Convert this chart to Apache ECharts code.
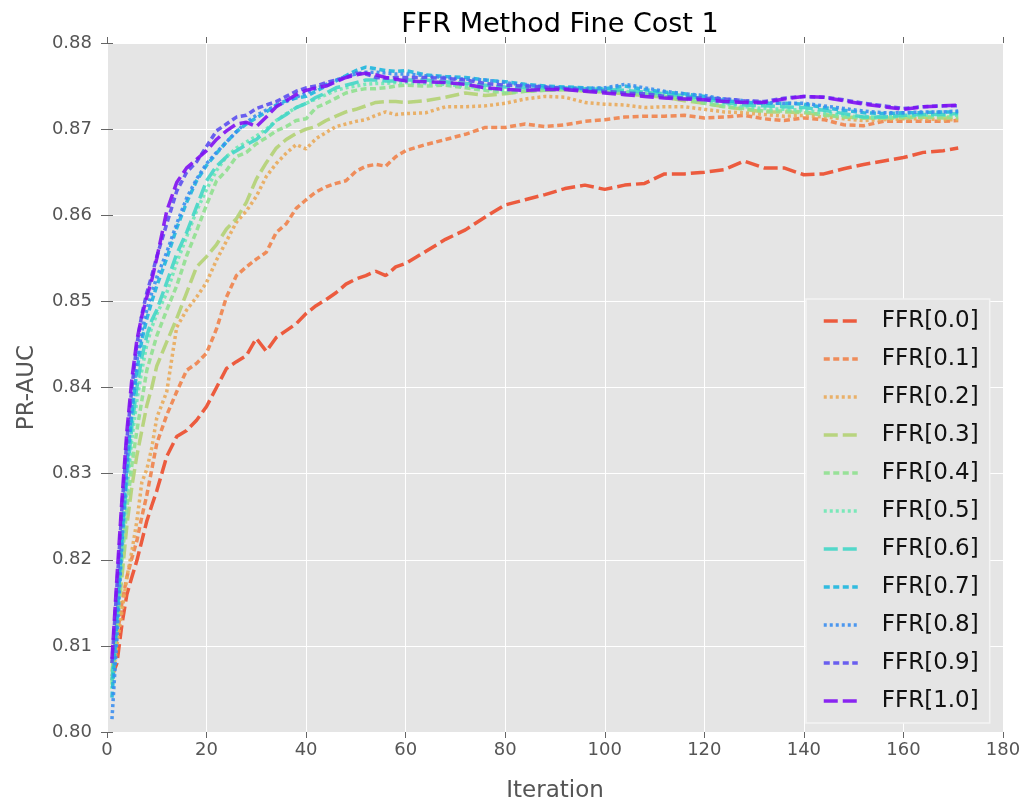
<!DOCTYPE html>
<html>
<head>
<meta charset="utf-8">
<script src="https://cdn.jsdelivr.net/npm/echarts@6/dist/echarts.min.js"></script>
<style>
  html, body { margin: 0; padding: 0; background: #ffffff; }
  #chart { width: 1025px; height: 808px; }
</style>
</head>
<body>
<div id="chart"></div>
<script>
// Iterations at which values were read
const iterations = [1,2,3,4,5,6,7,8,9,10, 12,14,16,18,20,
  22,24,26,28,30,32,34,36,38,40,42,44,46,48,50,52,54,56,58,60,
  64,68,72,76,80,84,88,92,96,100,104,108,112,116,120,124,128,132,136,140,144,148,152,156,160,164,168,
  171];

const seriesNames = ['FFR[0.0]','FFR[0.1]','FFR[0.2]','FFR[0.3]','FFR[0.4]','FFR[0.5]','FFR[0.6]','FFR[0.7]','FFR[0.8]','FFR[0.9]','FFR[1.0]'];

const ffr00 = [0.8065,0.8080,0.8125,0.8160,0.8180,0.8199,0.8222,0.8245,0.8263,0.8280,
  0.8320,0.8343,0.8350,0.8362,0.8378,
  0.8400,0.8422,0.8430,0.8437,0.8457,0.8442,0.8458,0.8466,0.8474,0.8486,0.8495,0.8502,0.8510,0.8520,0.8526,0.8530,0.8535,0.8530,0.8540,0.8544,
  0.8558,0.8572,0.8583,0.8598,0.8612,0.8618,0.8624,0.8631,0.8635,0.8630,0.8635,0.8637,0.8648,0.8648,0.8650,0.8653,0.8663,0.8655,0.8655,0.8647,0.8648,0.8654,0.8659,0.8663,0.8667,0.8673,0.8675,
  0.8678];
const ffr01 = [0.8080,0.8110,0.8150,0.8180,0.8202,0.8222,0.8250,0.8275,0.8305,0.8335,
  0.8368,0.8395,0.8420,0.8428,0.8440,
  0.8468,0.8505,0.8530,0.8540,0.8549,0.8557,0.8580,0.8590,0.8608,0.8618,0.8627,0.8633,0.8637,0.8640,0.8651,0.8657,0.8659,0.8657,0.8668,0.8675,
  0.8682,0.8688,0.8694,0.8702,0.8702,0.8706,0.8703,0.8705,0.8709,0.8711,0.8714,0.8715,0.8715,0.8716,0.8713,0.8714,0.8716,0.8712,0.8710,0.8713,0.8711,0.8705,0.8704,0.8709,0.8709,0.8709,0.8709,
  0.8710];
const ffr02 = [0.8060,0.8100,0.8140,0.8180,0.8210,0.8245,0.8290,0.8305,0.8330,0.8365,
  0.8395,0.8470,0.8490,0.8505,0.8522,
  0.8548,0.8570,0.8592,0.8605,0.8622,0.8645,0.8660,0.8672,0.8682,0.8677,0.8689,0.8696,0.8703,0.8706,0.8709,0.8711,0.8716,0.8720,0.8717,0.8718,
  0.8719,0.8726,0.8726,0.8727,0.8730,0.8735,0.8738,0.8737,0.8731,0.8729,0.8728,0.8725,0.8726,0.8726,0.8723,0.8720,0.8719,0.8717,0.8715,0.8716,0.8714,0.8712,0.8710,0.8711,0.8712,0.8712,0.8711,
  0.8711];
const ffr03 = [0.8070,0.8120,0.8180,0.8240,0.8285,0.8321,0.8350,0.8379,0.8400,0.8425,
  0.8453,0.8480,0.8510,0.8540,0.8552,
  0.8566,0.8584,0.8596,0.8615,0.8642,0.8661,0.8678,0.8688,0.8695,0.8700,0.8703,0.8710,0.8715,0.8720,0.8723,0.8727,0.8731,0.8732,0.8732,0.8731,
  0.8733,0.8737,0.8742,0.8739,0.8741,0.8744,0.8745,0.8746,0.8744,0.8743,0.8741,0.8739,0.8737,0.8733,0.8730,0.8726,0.8723,0.8720,0.8720,0.8719,0.8717,0.8714,0.8713,0.8713,0.8713,0.8714,0.8713,
  0.8713];
const ffr04 = [0.8055,0.8130,0.8200,0.8260,0.8310,0.8350,0.8385,0.8420,0.8440,0.8460,
  0.8490,0.8518,0.8553,0.8582,0.8612,
  0.8640,0.8652,0.8668,0.8673,0.8683,0.8690,0.8698,0.8703,0.8710,0.8712,0.8725,0.8730,0.8736,0.8742,0.8745,0.8747,0.8747,0.8748,0.8750,0.8751,
  0.8750,0.8751,0.8748,0.8745,0.8742,0.8744,0.8745,0.8746,0.8745,0.8744,0.8743,0.8740,0.8738,0.8735,0.8730,0.8726,0.8724,0.8721,0.8721,0.8720,0.8716,0.8714,0.8713,0.8713,0.8714,0.8714,0.8714,
  0.8714];
const ffr05 = [0.8050,0.8130,0.8210,0.8280,0.8340,0.8385,0.8420,0.8450,0.8470,0.8485,
  0.8510,0.8545,0.8575,0.8605,0.8630,
  0.8652,0.8668,0.8678,0.8685,0.8692,0.8700,0.8710,0.8718,0.8725,0.8730,0.8735,0.8740,0.8745,0.8748,0.8750,0.8752,0.8753,0.8753,0.8754,0.8754,
  0.8753,0.8752,0.8750,0.8747,0.8745,0.8746,0.8747,0.8748,0.8747,0.8745,0.8744,0.8742,0.8740,0.8738,0.8733,0.8729,0.8726,0.8724,0.8723,0.8722,0.8719,0.8716,0.8714,0.8714,0.8715,0.8716,0.8716,
  0.8716];
const ffr06 = [0.8060,0.8140,0.8220,0.8295,0.8355,0.8400,0.8435,0.8460,0.8478,0.8490,
  0.8522,0.8555,0.8580,0.8610,0.8640,
  0.8657,0.8668,0.8675,0.8682,0.8688,0.8698,0.8710,0.8717,0.8725,0.8730,0.8737,0.8742,0.8748,0.8751,0.8754,0.8757,0.8757,0.8756,0.8756,0.8757,
  0.8757,0.8755,0.8753,0.8751,0.8749,0.8748,0.8748,0.8748,0.8747,0.8746,0.8745,0.8743,0.8741,0.8739,0.8735,0.8731,0.8728,0.8727,0.8726,0.8725,0.8722,0.8718,0.8714,0.8714,0.8716,0.8717,0.8717,
  0.8718];
const ffr07 = [0.8040,0.8130,0.8230,0.8310,0.8370,0.8420,0.8455,0.8480,0.8500,0.8518,
  0.8550,0.8585,0.8615,0.8640,0.8658,
  0.8672,0.8685,0.8697,0.8706,0.8713,0.8720,0.8728,0.8733,0.8736,0.8738,0.8744,0.8750,0.8756,0.8762,0.8768,0.8772,0.8770,0.8768,0.8767,0.8768,
  0.8763,0.8761,0.8760,0.8757,0.8755,0.8752,0.8750,0.8749,0.8748,0.8747,0.8750,0.8746,0.8743,0.8741,0.8738,0.8733,0.8731,0.8730,0.8730,0.8729,0.8725,0.8722,0.8719,0.8718,0.8719,0.8719,0.8720,
  0.8720];
const ffr08 = [0.8015,0.8110,0.8220,0.8310,0.8380,0.8430,0.8465,0.8490,0.8510,0.8528,
  0.8557,0.8590,0.8620,0.8642,0.8660,
  0.8673,0.8685,0.8697,0.8708,0.8716,0.8722,0.8727,0.8732,0.8737,0.8742,0.8747,0.8752,0.8757,0.8761,0.8764,0.8766,0.8766,0.8765,0.8764,0.8764,
  0.8762,0.8760,0.8758,0.8757,0.8754,0.8751,0.8749,0.8748,0.8747,0.8748,0.8752,0.8748,0.8744,0.8741,0.8739,0.8735,0.8733,0.8731,0.8730,0.8730,0.8727,0.8724,0.8721,0.8719,0.8719,0.8720,0.8720,
  0.8721];
const ffr09 = [0.8080,0.8170,0.8260,0.8340,0.8400,0.8450,0.8485,0.8510,0.8530,0.8552,
  0.8590,0.8628,0.8650,0.8662,0.8680,
  0.8698,0.8706,0.8714,0.8716,0.8724,0.8728,0.8732,0.8738,0.8744,0.8748,0.8750,0.8754,0.8757,0.8760,0.8765,0.8764,0.8760,0.8759,0.8760,0.8760,
  0.8760,0.8759,0.8757,0.8753,0.8751,0.8750,0.8749,0.8747,0.8745,0.8744,0.8742,0.8741,0.8738,0.8736,0.8736,0.8735,0.8733,0.8732,0.8736,0.8738,0.8737,0.8734,0.8730,0.8727,0.8724,0.8726,0.8727,
  0.8727];
const ffr10 = [0.8085,0.8180,0.8270,0.8350,0.8410,0.8455,0.8483,0.8505,0.8525,0.8550,
  0.8605,0.8638,0.8655,0.8665,0.8675,
  0.8688,0.8698,0.8706,0.8708,0.8703,0.8714,0.8726,0.8733,0.8740,0.8745,0.8748,0.8750,0.8755,0.8760,0.8763,0.8765,0.8763,0.8760,0.8758,0.8756,
  0.8755,0.8754,0.8752,0.8748,0.8746,0.8745,0.8746,0.8746,0.8744,0.8742,0.8740,0.8738,0.8736,0.8735,0.8734,0.8732,0.8731,0.8731,0.8735,0.8738,0.8737,0.8733,0.8729,0.8726,0.8723,0.8726,0.8727,
  0.8728];

const seriesValues = [ffr00, ffr01, ffr02, ffr03, ffr04, ffr05, ffr06, ffr07, ffr08, ffr09, ffr10];

const xTicks = { min: 0, max: 180, interval: 20 };
const yTicks = { min: 0.80, max: 0.88, interval: 0.01 };

const colors = ['#ec4b2b','#f0824a','#e9aa5a','#b3d173','#8fe08f','#6ee8b4','#42d6c6','#1db6de','#3b8ef0','#5b4ff0','#7f10f2'];
const LONG = [14, 5], SHORT = [6, 3.5], DOT = [3, 3];
const dashes = [LONG, SHORT, DOT, LONG, SHORT, DOT, LONG, SHORT, DOT, SHORT, LONG];

const FONT = 'DejaVu Sans';
const chart = echarts.init(document.getElementById('chart'));

const series = seriesNames.map((name, k) => ({
  name: name,
  type: 'line',
  xAxisIndex: 0,
  yAxisIndex: 0,
  symbol: 'none',
  animation: false,
  data: iterations.map((it, i) => [it, seriesValues[k][i]]),
  lineStyle: { color: colors[k], width: 3.5, type: dashes[k], opacity: 0.9 },
  itemStyle: { color: colors[k] },
  z: 2 + k
}));

const tickStyle = { show: true, length: 6, inside: false, lineStyle: { color: '#666', width: 1 } };

chart.setOption({
  animation: false,
  backgroundColor: '#ffffff',
  title: {
    text: 'FFR Method Fine Cost 1',
    left: 555, top: 6, textAlign: 'center',
    textStyle: { fontFamily: FONT, fontSize: 27, fontWeight: 'normal', color: '#000000' }
  },
  grid: {
    left: 107, right: 22, top: 43, bottom: 73,
    show: true, backgroundColor: '#e5e5e5', borderWidth: 0
  },
  legend: {
    left: 806, top: 299,
    orient: 'vertical',
    data: seriesNames,
    itemWidth: 34, itemHeight: 14, itemGap: 14,
    padding: [10, 11, 10, 16],
    backgroundColor: '#e5e5e5',
    borderColor: '#f4f4f4', borderWidth: 1.5,
    itemStyle: { opacity: 0 },
    lineStyle: { width: 3.5 },
    textStyle: { fontFamily: FONT, fontSize: 23, color: '#111', lineHeight: 24, padding: [0, 0, 0, 19] }
  },
  xAxis: [{
    type: 'value', position: 'bottom',
    min: xTicks.min, max: xTicks.max, interval: xTicks.interval,
    name: 'Iteration', nameLocation: 'middle', nameGap: 48,
    nameTextStyle: { fontFamily: FONT, fontSize: 23, color: '#555' },
    axisLine: { show: false },
    axisTick: tickStyle,
    axisLabel: { fontFamily: FONT, fontSize: 18, color: '#555', margin: 9 },
    splitLine: { show: true, lineStyle: { color: '#ffffff', width: 1 } }
  }, {
    type: 'value', position: 'top',
    min: xTicks.min, max: xTicks.max, interval: xTicks.interval,
    axisLine: { show: false }, axisTick: tickStyle,
    axisLabel: { show: false }, splitLine: { show: false }
  }],
  yAxis: [{
    type: 'value', position: 'left',
    min: yTicks.min, max: yTicks.max, interval: yTicks.interval,
    name: 'PR-AUC', nameLocation: 'middle', nameGap: 68,
    nameTextStyle: { fontFamily: FONT, fontSize: 23, color: '#555' },
    axisLine: { show: false },
    axisTick: tickStyle,
    axisLabel: { fontFamily: FONT, fontSize: 18, color: '#555', margin: 15, formatter: v => v.toFixed(2) },
    splitLine: { show: true, lineStyle: { color: '#ffffff', width: 1 } }
  }, {
    type: 'value', position: 'right',
    min: yTicks.min, max: yTicks.max, interval: yTicks.interval,
    axisLine: { show: false }, axisTick: tickStyle,
    axisLabel: { show: false }, splitLine: { show: false }
  }],
  series: series
});
</script>
</body>
</html>
